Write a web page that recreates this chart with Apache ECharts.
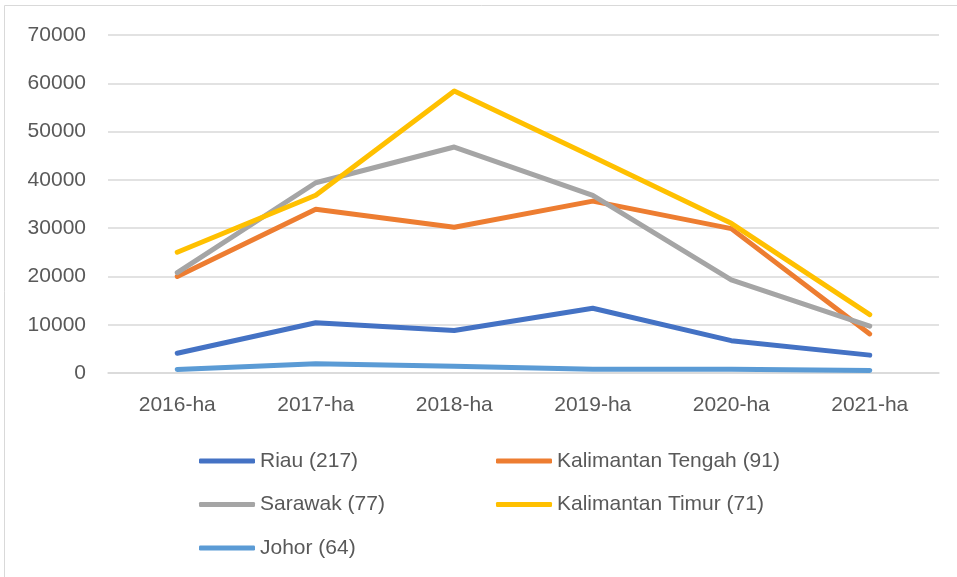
<!DOCTYPE html>
<html>
<head>
<meta charset="utf-8">
<script src="https://cdn.jsdelivr.net/npm/echarts@6/dist/echarts.min.js"></script>
<style>
  html, body { margin: 0; padding: 0; background: #fff; }
  #chart { width: 957px; height: 577px; }
</style>
</head>
<body>
<div id="chart"></div>
<script>
// years on the x axis
const categories = ['2016-ha', '2017-ha', '2018-ha', '2019-ha', '2020-ha', '2021-ha'];

// hectares per region
const riau = [4100, 10400, 8800, 13400, 6700, 3700];
const kalTengah = [20000, 33900, 30200, 35600, 29900, 8100];
const sarawak = [20800, 39400, 46800, 36800, 19300, 9700];
const kalTimur = [25000, 36800, 58400, 44800, 31000, 12100];
const johor = [750, 1900, 1400, 800, 800, 500];

const names = ['Riau (217)', 'Kalimantan Tengah (91)', 'Sarawak (77)', 'Kalimantan Timur (71)', 'Johor (64)'];
const colors = ['#4472C4', '#ED7D31', '#A5A5A5', '#FFC000', '#5B9BD5'];
const values = [riau, kalTengah, sarawak, kalTimur, johor];

const font = 'Liberation Sans, Arial, sans-serif';
const txt = '#595959';

let legendText = { color: txt, fontSize: 21, fontFamily: font, lineHeight: 24 };

let chart = echarts.init(document.getElementById('chart'), null, { renderer: 'canvas' });

chart.setOption({
    animation: false,
    color: colors,
    graphic: [{
        type: 'rect',
        shape: { x: 4.5, y: 5.5, width: 1000, height: 1000 },
        style: { fill: 'none', stroke: '#D9D9D9', lineWidth: 1 },
        silent: true
    }],
    grid: { left: 108, right: 18, top: 35, bottom: 204 },
    legend: [{
        orient: 'vertical',
        left: 194, top: 444,
        itemWidth: 56, itemHeight: 5, itemGap: 19.5,
        icon: 'roundRect',
        textStyle: legendText,
        data: [names[0], names[2], names[4]]
    }, {
        orient: 'vertical',
        left: 491, top: 444,
        itemWidth: 56, itemHeight: 5, itemGap: 19.5,
        icon: 'roundRect',
        textStyle: legendText,
        data: [names[1], names[3]]
    }],
    xAxis: {
        type: 'category',
        data: categories,
        boundaryGap: true,
        axisLine: { lineStyle: { color: '#D9D9D9', width: 1.5 } },
        axisTick: { show: false },
        axisLabel: { color: txt, fontSize: 21, fontFamily: font, margin: 22 }
    },
    yAxis: {
        type: 'value',
        min: 0, max: 70000, interval: 10000,
        axisLine: { show: false },
        axisTick: { show: false },
        splitLine: { lineStyle: { color: '#D9D9D9', width: 1.5 } },
        axisLabel: { color: txt, fontSize: 21, fontFamily: font, margin: 22, formatter: v => String(v) }
    },
    series: names.map((n, i) => ({
        name: n,
        type: 'line',
        data: values[i],
        showSymbol: false,
        symbol: 'none',
        lineStyle: { width: 5, color: colors[i], cap: 'round', join: 'round' },
        itemStyle: { color: colors[i] },
        z: 2 + i
    }))
});
</script>
</body>
</html>
